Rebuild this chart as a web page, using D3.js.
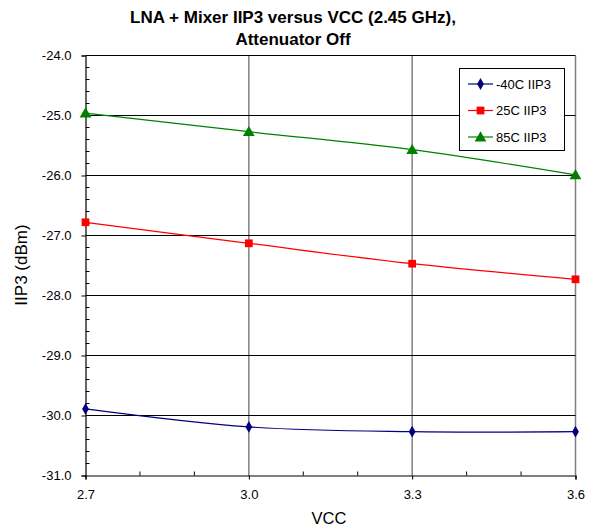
<!DOCTYPE html>
<html><head><meta charset="utf-8">
<script src="https://cdn.jsdelivr.net/npm/d3@7"></script>
<style>body{margin:0;background:#fff}svg{display:block;font-family:"Liberation Sans",Arial,sans-serif}</style>
</head><body><svg id="c" width="593" height="531"></svg>
<script>
const vcc = [2.7, 3.0, 3.3, 3.6];
const xTicks = [2.7, 3.0, 3.3, 3.6];
const yTicks = [-31, -30, -29, -28, -27, -26, -25, -24];
const seriesNames = ["-40C IIP3", "25C IIP3", "85C IIP3"];
const iipM40 = [-29.89, -30.19, -30.27, -30.27];
const iip25 = [-26.78, -27.13, -27.47, -27.73];
const iip85 = [-24.96, -25.27, -25.57, -25.99];
const colors = ["#000080", "#ff0000", "#008000"];
const markers = [d3.symbolDiamond, d3.symbolSquare, d3.symbolTriangle];
const data = [iipM40, iip25, iip85];

const svg = d3.select("#c");
const L = 85.5, R = 575.5, T = 55.5, B = 475.5;
const x = d3.scaleLinear().domain([2.7, 3.6]).range([L, R]);
const y = d3.scaleLinear().domain([-31, -24]).range([B, T]);

// title
svg.append("text").attr("x", 293).attr("y", 23).attr("text-anchor", "middle")
  .attr("font-weight", "bold").attr("font-size", 17).text("LNA + Mixer IIP3 versus VCC (2.45 GHz),");
svg.append("text").attr("x", 293).attr("y", 45).attr("text-anchor", "middle")
  .attr("font-weight", "bold").attr("font-size", 17).text("Attenuator Off");

// gridlines
const g = svg.append("g");
g.selectAll(".vg").data(xTicks.slice(1)).join("line")
  .attr("x1", d => x(d)).attr("x2", d => x(d)).attr("y1", T).attr("y2", B)
  .attr("stroke", "#808080").attr("stroke-width", 1.5);
g.selectAll(".hg").data(yTicks.slice(1)).join("line")
  .attr("x1", L).attr("x2", R).attr("y1", d => y(d)).attr("y2", d => y(d))
  .attr("stroke", "#000").attr("stroke-width", 1);

// minor ticks
const yMinor = d3.range(-31, -24, 0.2).filter(v => Math.abs(v - Math.round(v)) > 1e-6);
g.selectAll(".ym").data(yMinor).join("line")
  .attr("x1", L).attr("x2", L + 4).attr("y1", d => y(d)).attr("y2", d => y(d)).attr("stroke", "#000");
const xMinor = [2.8, 2.9, 3.1, 3.2, 3.4, 3.5];
g.selectAll(".xm").data(xMinor).join("line")
  .attr("x1", d => x(d)).attr("x2", d => x(d)).attr("y1", B).attr("y2", B - 4).attr("stroke", "#000");

// axes
const fmt = d => d.toFixed(1);
const yAxis = d3.axisLeft(y).tickValues(yTicks).tickFormat(fmt).tickSize(4).tickPadding(8);
const yg = svg.append("g").attr("transform", `translate(${L},0)`).call(yAxis);
const xAxis = d3.axisBottom(x).tickValues(xTicks).tickFormat(fmt).tickSize(4).tickPadding(10);
const xg = svg.append("g").attr("transform", `translate(0,${B})`).call(xAxis);
[yg, xg].forEach(a => {
  a.select(".domain").attr("stroke", "#000").attr("stroke-width", 1.2);
  a.selectAll("text").attr("font-size", 13).attr("fill", "#000")
    .attr("font-family", '"Liberation Sans",Arial,sans-serif');
  a.selectAll(".tick line").attr("stroke", "#000");
});
yg.selectAll("text").attr("dx", -2);

// axis titles
svg.append("text").attr("transform", "translate(27,265) rotate(-90)").attr("text-anchor", "middle")
  .attr("font-size", 17).text("IIP3 (dBm)");
svg.append("text").attr("x", 329).attr("y", 524).attr("text-anchor", "middle")
  .attr("font-size", 16.5).text("VCC");

// series
const line = d3.line().x((d, i) => x(vcc[i])).y(d => y(d)).curve(d3.curveCardinal.tension(0));
data.forEach((s, k) => {
  svg.append("path").attr("d", line(s)).attr("fill", "none").attr("stroke", colors[k]).attr("stroke-width", 1.2);
  svg.selectAll(".m" + k).data(s).join("path")
    .attr("transform", (d, i) => `translate(${x(vcc[i])},${y(d) + (k === 2 ? 1 : 0)})`)
    .attr("d", d3.symbol().type(markers[k]).size(k === 0 ? 40 : 60))
    .attr("fill", colors[k]);
});

// legend
const lg = svg.append("g");
lg.append("rect").attr("x", 459.5).attr("y", 68.5).attr("width", 105).attr("height", 82)
  .attr("fill", "#fff").attr("stroke", "#000");
seriesNames.forEach((n, k) => {
  const yy = 84 + k * 26.5;
  lg.append("line").attr("x1", 468).attr("x2", 493).attr("y1", yy).attr("y2", yy)
    .attr("stroke", colors[k]).attr("stroke-width", 1.2);
  lg.append("path").attr("transform", `translate(480.5,${yy + (k === 2 ? 1 : 0)})`)
    .attr("d", d3.symbol().type(markers[k]).size(k === 0 ? 40 : 60)).attr("fill", colors[k]);
  lg.append("text").attr("x", 496).attr("y", yy + 4.5).attr("font-size", 13).text(n);
});
</script></body></html>
